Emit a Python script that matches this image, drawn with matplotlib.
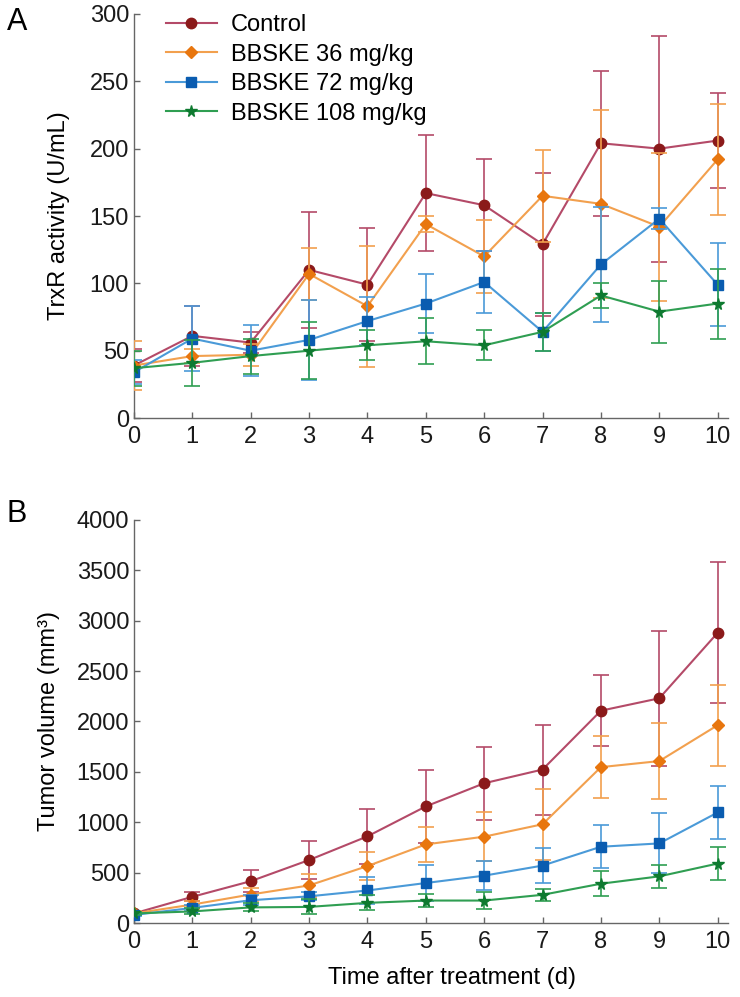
import matplotlib
matplotlib.use("Agg")
import matplotlib.pyplot as plt
import numpy as np

plt.rcParams.update({
    "font.family": ["Liberation Sans", "DejaVu Sans"],
    "font.size": 17,
    "axes.linewidth": 1.0,
    "axes.edgecolor": "#666666",
    "xtick.color": "#666666",
    "ytick.color": "#666666",
    "xtick.labelcolor": "#1a1a1a",
    "ytick.labelcolor": "#1a1a1a",
})

# Data
days = np.arange(11)
labels = ["Control", "BBSKE 36 mg/kg", "BBSKE 72 mg/kg", "BBSKE 108 mg/kg"]

trxr_control = [39, 61, 56, 110, 99, 167, 158, 129, 204, 200, 206]
trxr_control_sd = [12, 22, 8, 43, 42, 43, 34, 53, 54, 84, 35]
trxr_36 = [39, 46, 47, 107, 83, 144, 120, 165, 159, 142, 192]
trxr_36_sd = [18, 5, 8, 19, 45, 6, 27, 34, 70, 55, 41]
trxr_72 = [34, 59, 50, 58, 72, 85, 101, 64, 114, 148, 99]
trxr_72_sd = [9, 24, 19, 30, 18, 22, 23, 14, 43, 8, 31]
trxr_108 = [37, 41, 46, 50, 54, 57, 54, 64, 91, 79, 85]
trxr_108_sd = [13, 17, 13, 21, 11, 17, 11, 14, 9, 23, 26]

vol_control = [95, 260, 415, 625, 860, 1157, 1387, 1523, 2107, 2230, 2880]
vol_control_sd = [20, 45, 110, 185, 270, 366, 360, 447, 350, 667, 700]
vol_36 = [95, 183, 283, 373, 565, 780, 857, 980, 1547, 1607, 1963]
vol_36_sd = [20, 40, 60, 110, 140, 173, 240, 350, 310, 373, 400]
vol_72 = [80, 150, 226, 265, 323, 397, 470, 570, 757, 790, 1097]
vol_72_sd = [15, 30, 50, 40, 135, 183, 143, 177, 213, 297, 260]
vol_108 = [95, 115, 155, 160, 200, 223, 223, 280, 390, 463, 590]
vol_108_sd = [15, 30, 40, 75, 75, 64, 80, 57, 123, 117, 167]

# styles: line color, marker color, marker, size
LINE_COLORS = ["#b44a68", "#f2a04e", "#4a9ad8", "#2f9e52"]
MARKER_COLORS = ["#8b1a1a", "#e8760e", "#0a5cb0", "#0e7a30"]
MARKERS = ["o", "D", "s", "*"]
MSIZES = [7.5, 6.5, 6.5, 8.5]


def draw(ax, means, sds):
    for i, (m, s) in enumerate(zip(means, sds)):
        ax.errorbar(days, m, yerr=s, color=LINE_COLORS[i], ecolor=LINE_COLORS[i],
                    elinewidth=1.2, capsize=5.5, capthick=1.2, lw=1.5,
                    marker=MARKERS[i], ms=MSIZES[i], mfc=MARKER_COLORS[i],
                    mec=MARKER_COLORS[i], label=labels[i], zorder=3 + i)
    ax.set_xlim(0, 10.18)
    ax.set_xticks(days)
    ax.spines["top"].set_visible(False)
    ax.spines["right"].set_visible(False)
    ax.tick_params(direction="in", length=4, width=1.0, labelsize=17)
    ax.tick_params(axis="x", pad=6)


fig = plt.figure(figsize=(7.4, 9.97), dpi=100)
axA = fig.add_axes([0.181, 0.5807, 0.803, 0.4053])
axB = fig.add_axes([0.181, 0.0742, 0.803, 0.4043])

draw(axA, [trxr_control, trxr_36, trxr_72, trxr_108],
     [trxr_control_sd, trxr_36_sd, trxr_72_sd, trxr_108_sd])
axA.set_ylim(0, 300)
axA.set_yticks(np.arange(0, 301, 50))
axA.set_ylabel("TrxR activity (U/mL)", fontsize=17)
axA.yaxis.set_label_coords(-0.108, 0.5)

draw(axB, [vol_control, vol_36, vol_72, vol_108],
     [vol_control_sd, vol_36_sd, vol_72_sd, vol_108_sd])
axB.set_ylim(0, 4000)
axB.set_yticks(np.arange(0, 4001, 500))
axB.set_ylabel("Tumor volume (mm³)", fontsize=17)
axB.yaxis.set_label_coords(-0.125, 0.5)
axB.set_xlabel("Time after treatment (d)", fontsize=17)
axB.xaxis.set_label_coords(0.535, -0.11)

# legend with plain handles (no error bars)
handles = [plt.Line2D([], [], color=LINE_COLORS[i], lw=1.5, marker=MARKERS[i],
                      ms=MSIZES[i], mfc=MARKER_COLORS[i], mec=MARKER_COLORS[i])
           for i in range(4)]
axA.legend(handles, labels, loc="upper left", bbox_to_anchor=(166 / 740, 1 - 14 / 997),
           bbox_transform=fig.transFigure, frameon=False, fontsize=17,
           handlelength=2.15, handletextpad=0.6, labelspacing=0.32, borderpad=0,
           borderaxespad=0)

fig.text(17 / 740, 1 - 22 / 997, "A", fontsize=22, ha="center", va="center")
fig.text(17 / 740, 1 - 514 / 997, "B", fontsize=22, ha="center", va="center")

fig.savefig("out.png", dpi=100)
plt.close(fig)
